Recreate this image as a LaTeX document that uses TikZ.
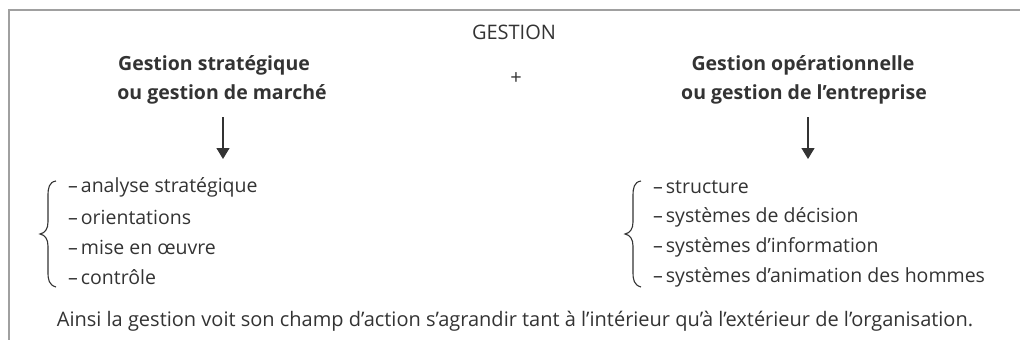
\documentclass[tikz,border=0pt]{standalone}
\usepackage{fontspec}
\setmainfont{Open Sans}
\usetikzlibrary{arrows.meta}
\definecolor{txt}{HTML}{333333}
\definecolor{frame}{HTML}{A0A0A0}
\newcommand{\dsh}{–\kern3pt}
\tikzset{
  lbl/.style={inner sep=0pt, text=txt, font=\fontsize{20}{30}\selectfont},
  ttl/.style={lbl, font=\fontsize{19.5}{30}\selectfont\bfseries, align=center},
  itm/.style={lbl, anchor=west, font=\fontsize{19.5}{30}\selectfont},
  arr/.style={draw=txt, line width=1.3pt, -{Triangle[width=13pt,length=11pt]}},
  brc/.style={draw=txt, line width=1.1pt},
}
\begin{document}
\begin{tikzpicture}[x=1pt,y=-1pt]
\useasboundingbox (0,0) rectangle (1020,340);
\draw[frame, line width=1.6pt] (9,340) -- (9,10) -- (1020,10);
\node[lbl] (g) at (514,32) {GESTION};
\node[lbl] (plus) at (516,79) {+};
\node[ttl] (gs1) at (214,65) {Gestion stratégique};
\node[ttl] (gs2) at (222,94) {ou gestion de marché};
\node[ttl] (go1) at (803,65) {Gestion opérationnelle};
\node[ttl] (go2) at (804,94) {ou gestion de l’entreprise};
\coordinate (a1s) at (223,117);
\coordinate (a1e) at (223,159);
\coordinate (a2s) at (808,117);
\coordinate (a2e) at (808,159);
\draw[arr] (a1s) -- (a1e);
\draw[arr] (a2s) -- (a2e);
% left list
\node[itm] (l1) at (68,187) {\dsh analyse stratégique};
\node[itm] (l2) at (68,217) {\dsh orientations};
\node[itm] (l3) at (68,247) {\dsh mise en œuvre};
\node[itm] (l4) at (68,277) {\dsh contrôle};
% right list
\node[itm] (r1) at (653,187) {\dsh structure};
\node[itm] (r2) at (653,217) {\dsh systèmes de décision};
\node[itm] (r3) at (653,247) {\dsh systèmes d’information};
\node[itm] (r4) at (653,277) {\dsh systèmes d’animation des hommes};
% braces
\draw[brc] (56,181) .. controls (49,182) and (48,188) .. (48,196) -- (48,222)
  .. controls (48,229) and (45,233) .. (40,234)
  .. controls (45,235) and (48,239) .. (48,246) -- (48,272)
  .. controls (48,280) and (49,285) .. (56,287);
\draw[brc] (641,181) .. controls (634,182) and (633,188) .. (633,196) -- (633,222)
  .. controls (633,229) and (630,233) .. (625,234)
  .. controls (630,235) and (633,239) .. (633,246) -- (633,272)
  .. controls (633,280) and (634,285) .. (641,287);
\node[lbl] (fin) at (515,321) {Ainsi la gestion voit son champ d’action s’agrandir tant à l’intérieur qu’à l’extérieur de l’organisation.};
\end{tikzpicture}
\end{document}
